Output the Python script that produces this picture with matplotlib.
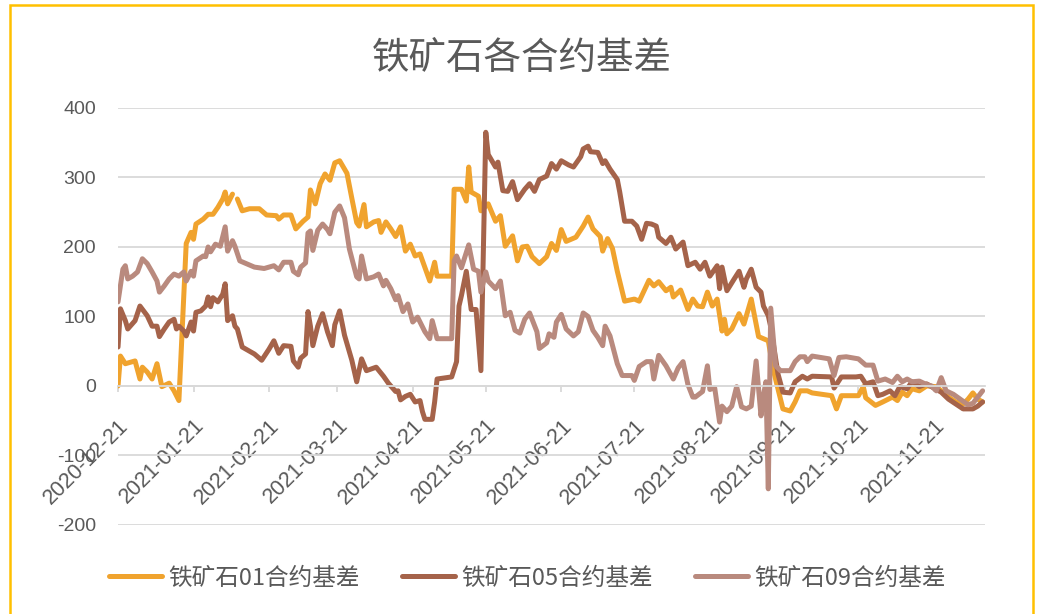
import numpy as np
import pandas as pd
import matplotlib
matplotlib.use("Agg")
import matplotlib.pyplot as plt
from matplotlib.patches import Rectangle

# Colours / text settings
TEXT_COLOR = "#595959"
GRID_COLOR = "#D9D9D9"
BORDER_COLOR = "#FFC000"
COLORS = ["#F0A32E", "#A5634A", "#B98A7E"]

TITLE = "铁矿石各合约基差"
LABELS = ["铁矿石01合约基差", "铁矿石05合约基差", "铁矿石09合约基差"]

x_tick_dates = ["2020-12-21", "2021-01-21", "2021-02-21", "2021-03-21", "2021-04-21",
                "2021-05-21", "2021-06-21", "2021-07-21", "2021-08-21", "2021-09-21",
                "2021-10-21", "2021-11-21"]
x_tick_labels = x_tick_dates
y_ticks = [-200, -100, 0, 100, 200, 300, 400]

# 01 contract basis
s01_dates = [
    "2020-12-21", "2020-12-22", "2020-12-24", "2020-12-26", "2020-12-28", "2020-12-30", "2020-12-31",
    "2021-01-02", "2021-01-04", "2021-01-06", "2021-01-08", "2021-01-11", "2021-01-13", "2021-01-15",
    "2021-01-18", "2021-01-20", "2021-01-21", "2021-01-22", "2021-01-25", "2021-01-27", "2021-01-29", "2021-01-31",
    "2021-02-02", "2021-02-03", "2021-02-04", "2021-02-06", "2021-02-07", "2021-02-08", "2021-02-10",
    "2021-02-13", "2021-02-17", "2021-02-20", "2021-02-24", "2021-02-25", "2021-02-27",
    "2021-03-02", "2021-03-04", "2021-03-07", "2021-03-09", "2021-03-10", "2021-03-12", "2021-03-14",
    "2021-03-16", "2021-03-18", "2021-03-20", "2021-03-22", "2021-03-25", "2021-03-27", "2021-03-29", "2021-03-30",
    "2021-04-01", "2021-04-02", "2021-04-05", "2021-04-07", "2021-04-08", "2021-04-10", "2021-04-12",
    "2021-04-14", "2021-04-16", "2021-04-18", "2021-04-20", "2021-04-22", "2021-04-24", "2021-04-28", "2021-04-30",
    "2021-05-01", "2021-05-07", "2021-05-08", "2021-05-11", "2021-05-13", "2021-05-14", "2021-05-15",
    "2021-05-18", "2021-05-19", "2021-05-22", "2021-05-25", "2021-05-27", "2021-05-29",
    "2021-06-01", "2021-06-03", "2021-06-05", "2021-06-07", "2021-06-09", "2021-06-12", "2021-06-15",
    "2021-06-17", "2021-06-19", "2021-06-21", "2021-06-23", "2021-06-27", "2021-06-30",
    "2021-07-02", "2021-07-04", "2021-07-07", "2021-07-08", "2021-07-10", "2021-07-12", "2021-07-14",
    "2021-07-17", "2021-07-21", "2021-07-23", "2021-07-27", "2021-07-29", "2021-07-31",
    "2021-08-03", "2021-08-05", "2021-08-06", "2021-08-09", "2021-08-12", "2021-08-14", "2021-08-16",
    "2021-08-18", "2021-08-20", "2021-08-22", "2021-08-24", "2021-08-26", "2021-08-27", "2021-08-28", "2021-08-30",
    "2021-09-02", "2021-09-04", "2021-09-07", "2021-09-09", "2021-09-10", "2021-09-14", "2021-09-16",
    "2021-09-20", "2021-09-23", "2021-09-25", "2021-09-27", "2021-09-30",
    "2021-10-02", "2021-10-10", "2021-10-12", "2021-10-14", "2021-10-21", "2021-10-23", "2021-10-24",
    "2021-10-28", "2021-10-31",
    "2021-11-04", "2021-11-06", "2021-11-08", "2021-11-10", "2021-11-12", "2021-11-15", "2021-11-18",
    "2021-11-22", "2021-11-24", "2021-11-27", "2021-11-30",
    "2021-12-03", "2021-12-05", "2021-12-07", "2021-12-09", "2021-12-11",
]
s01_vals = [
    0, 43, 32, 34, 36, 10, 27,
    20, 10, 32, -1, 4, -7, -21, 205, 221, 211, 233, 240, 247, 247, 257,
    269, 279, 262, 276, np.nan, 269, 252, 255, 255, 246, 245, 240, 246,
    246, 226, 237, 243, 282, 262, 291, 305, 296, 321, 324, 306, 270, 235, 230,
    261, 229, 236, 238, 221, 236, 226, 215, 229, 194, 204, 187, 190, 151, 178,
    158, 158, 283, 283, 266, 315, 279, 273, 252, 262, 237, 245, 201,
    216, 180, 200, 201, 186, 176, 186, 205, 195, 225, 208, 214, 230,
    243, 226, 215, 194, 212, 198, 165, 122, 125, 122, 152, 144, 150,
    137, 142, 128, 138, 110, 125, 115, 114, 135, 115, 125, 79, 96, 75, 82,
    104, 89, 125, 89, 71, 65, 24, -33, -36, -23, -7, -7,
    -10, -14, -33, -14, -14, -1, -17, -28, -23,
    -16, -21, -9, -14, -4, -7, 0, -1, -7, -16, -23,
    -26, -19, -10, -19, -23,
]

# 05 contract basis
s05_dates = [
    "2020-12-21", "2020-12-22", "2020-12-24", "2020-12-25", "2020-12-28", "2020-12-30",
    "2021-01-02", "2021-01-04", "2021-01-06", "2021-01-07", "2021-01-09", "2021-01-11", "2021-01-13",
    "2021-01-14", "2021-01-15", "2021-01-17", "2021-01-18", "2021-01-20", "2021-01-21", "2021-01-22",
    "2021-01-24", "2021-01-26", "2021-01-27", "2021-01-28", "2021-01-29", "2021-01-31",
    "2021-02-02", "2021-02-03", "2021-02-04", "2021-02-06", "2021-02-07", "2021-02-08", "2021-02-10",
    "2021-02-15", "2021-02-18", "2021-02-21", "2021-02-23", "2021-02-25", "2021-02-27",
    "2021-03-02", "2021-03-03", "2021-03-05", "2021-03-06", "2021-03-08", "2021-03-09", "2021-03-10",
    "2021-03-11", "2021-03-13", "2021-03-15", "2021-03-17", "2021-03-19", "2021-03-20", "2021-03-22",
    "2021-03-24", "2021-03-27", "2021-03-29", "2021-03-31",
    "2021-04-02", "2021-04-06", "2021-04-09", "2021-04-11", "2021-04-14", "2021-04-15", "2021-04-16",
    "2021-04-18", "2021-04-20", "2021-04-22", "2021-04-24", "2021-04-25", "2021-04-26", "2021-04-29", "2021-04-30",
    "2021-05-01", "2021-05-07", "2021-05-09", "2021-05-10", "2021-05-11", "2021-05-13", "2021-05-15",
    "2021-05-17", "2021-05-19", "2021-05-21", "2021-05-22", "2021-05-25", "2021-05-26", "2021-05-28", "2021-05-30",
    "2021-06-01", "2021-06-03", "2021-06-06", "2021-06-08", "2021-06-10", "2021-06-12", "2021-06-15",
    "2021-06-17", "2021-06-19", "2021-06-21", "2021-06-24", "2021-06-26", "2021-06-29", "2021-06-30",
    "2021-07-02", "2021-07-03", "2021-07-06", "2021-07-08", "2021-07-09", "2021-07-11", "2021-07-14",
    "2021-07-15", "2021-07-17", "2021-07-20", "2021-07-22", "2021-07-24", "2021-07-26", "2021-07-28",
    "2021-07-30", "2021-07-31",
    "2021-08-03", "2021-08-05", "2021-08-07", "2021-08-10", "2021-08-12", "2021-08-15", "2021-08-17",
    "2021-08-19", "2021-08-21", "2021-08-24", "2021-08-25", "2021-08-26", "2021-08-28", "2021-08-31",
    "2021-09-02", "2021-09-04", "2021-09-05", "2021-09-07", "2021-09-09", "2021-09-11", "2021-09-12",
    "2021-09-14", "2021-09-15", "2021-09-18", "2021-09-20", "2021-09-23", "2021-09-25", "2021-09-28", "2021-09-30",
    "2021-10-02", "2021-10-10", "2021-10-11", "2021-10-14", "2021-10-20", "2021-10-22", "2021-10-24",
    "2021-10-27", "2021-10-29", "2021-10-31",
    "2021-11-03", "2021-11-05", "2021-11-07", "2021-11-10", "2021-11-12", "2021-11-15", "2021-11-18",
    "2021-11-20", "2021-11-24", "2021-11-27", "2021-11-30",
    "2021-12-03", "2021-12-07", "2021-12-09", "2021-12-11",
]
s05_vals = [
    56, 111, 94, 82, 94, 115,
    101, 86, 86, 71, 82, 92, 96, 82, 86, 79, 72, 92, 79, 106, 108, 115, 128, 114, 127, 121,
    132, 147, 94, 101, 86, 82, 56, 46, 37, 53, 65, 47, 58,
    57, 36, 27, 40, 46, 107, 86, 58, 86, 104, 78, 58, 88, 108, 73, 37, 6, 39,
    22, 27, 14, 4, -8, -7, -20, -15, -12, -23, -21, -37, -48, -48, -23,
    10, 13, 35, 115, 130, 165, 110, 110, 22, 365, 333, 315, 322, 281, 280,
    294, 268, 283, 291, 280, 297, 302, 320, 312, 324, 318, 315, 330, 341,
    345, 337, 336, 320, 324, 312, 297, 279, 237, 237, 230, 211, 234, 233, 230, 214,
    205, 214, 197, 207, 173, 178, 168, 178, 158, 173, 140, 171, 137, 154,
    165, 142, 154, 168, 142, 135, 115, 101, 85, 17, -9, -10, 6, 14, 10,
    14, 13, -3, 13, 13, 14, 3, 6, -14, -12,
    -7, -14, -1, -4, 6, -1, 3, -1, -9, -19, -26,
    -33, -33, -29, -23,
]

# 09 contract basis
s09_dates = [
    "2020-12-21", "2020-12-23", "2020-12-24", "2020-12-25", "2020-12-27", "2020-12-29", "2020-12-31",
    "2021-01-02", "2021-01-04", "2021-01-06", "2021-01-07", "2021-01-09", "2021-01-11", "2021-01-13",
    "2021-01-15", "2021-01-17", "2021-01-18", "2021-01-20", "2021-01-21", "2021-01-22", "2021-01-25",
    "2021-01-26", "2021-01-27", "2021-01-28", "2021-01-30",
    "2021-02-01", "2021-02-03", "2021-02-04", "2021-02-06", "2021-02-07", "2021-02-09", "2021-02-15",
    "2021-02-19", "2021-02-23", "2021-02-25", "2021-02-27",
    "2021-03-02", "2021-03-03", "2021-03-05", "2021-03-06", "2021-03-08", "2021-03-09", "2021-03-10",
    "2021-03-11", "2021-03-13", "2021-03-15", "2021-03-17", "2021-03-18", "2021-03-20", "2021-03-22",
    "2021-03-24", "2021-03-26", "2021-03-29", "2021-03-30", "2021-03-31",
    "2021-04-02", "2021-04-05", "2021-04-07", "2021-04-09", "2021-04-10", "2021-04-12", "2021-04-14",
    "2021-04-15", "2021-04-17", "2021-04-19", "2021-04-21", "2021-04-23", "2021-04-26", "2021-04-28", "2021-04-29",
    "2021-05-01", "2021-05-07", "2021-05-08", "2021-05-09", "2021-05-11", "2021-05-14", "2021-05-16",
    "2021-05-18", "2021-05-19", "2021-05-21", "2021-05-22", "2021-05-25", "2021-05-27", "2021-05-29", "2021-05-31",
    "2021-06-02", "2021-06-04", "2021-06-06", "2021-06-08", "2021-06-11", "2021-06-12", "2021-06-15",
    "2021-06-16", "2021-06-18", "2021-06-19", "2021-06-21", "2021-06-23", "2021-06-26", "2021-06-28", "2021-06-30",
    "2021-07-02", "2021-07-04", "2021-07-06", "2021-07-08", "2021-07-09", "2021-07-11", "2021-07-14",
    "2021-07-16", "2021-07-20", "2021-07-21", "2021-07-23", "2021-07-26", "2021-07-28", "2021-07-29", "2021-07-31",
    "2021-08-03", "2021-08-06", "2021-08-08", "2021-08-10", "2021-08-12", "2021-08-14", "2021-08-15",
    "2021-08-18", "2021-08-20", "2021-08-21", "2021-08-23", "2021-08-25", "2021-08-26", "2021-08-28", "2021-08-30",
    "2021-09-01", "2021-09-03", "2021-09-05", "2021-09-07", "2021-09-09", "2021-09-11", "2021-09-12",
    "2021-09-13", "2021-09-14", "2021-09-15", "2021-09-17", "2021-09-19", "2021-09-23", "2021-09-25",
    "2021-09-27", "2021-09-29", "2021-09-30",
    "2021-10-02", "2021-10-09", "2021-10-11", "2021-10-13", "2021-10-16", "2021-10-21", "2021-10-24",
    "2021-10-27", "2021-10-29",
    "2021-11-01", "2021-11-04", "2021-11-06", "2021-11-08", "2021-11-10", "2021-11-12", "2021-11-15",
    "2021-11-18", "2021-11-20", "2021-11-22", "2021-11-24", "2021-11-26", "2021-11-29",
    "2021-12-03", "2021-12-05", "2021-12-07", "2021-12-09", "2021-12-11",
]
s09_vals = [
    121, 168, 173, 154, 158, 164, 183,
    176, 164, 151, 135, 144, 154, 161, 158, 164, 151, 165, 158, 180, 187, 186, 200, 193, 204,
    201, 229, 194, 209, 201, 180, 171, 169, 173, 167, 178,
    178, 165, 160, 171, 177, 220, 223, 195, 224, 233, 225, 219, 250, 259, 242, 197, 157, 154, 187,
    154, 157, 161, 144, 152, 140, 124, 130, 107, 118, 92, 99, 78, 68, 94,
    68, 68, 180, 187, 170, 203, 168, 165, 135, 164, 151, 140, 151, 101, 106,
    80, 76, 96, 105, 78, 54, 62, 75, 70, 92, 103, 82, 72, 78, 105,
    100, 80, 70, 58, 86, 72, 32, 15, 15, 8, 28, 35, 35, 10, 44,
    29, 10, 26, 35, 2, -16, -16, -8, 29, -5, -3, -52, -29, -37, -29,
    -1, -30, -33, -29, 36, -43, -14, 6, -148, 112, 29, 22, 22, 35, 42, 42, 35,
    43, 39, 15, 41, 42, 39, 30, 30, 7,
    10, 5, 14, 6, 10, 6, 7, 2, 0, -7, 12, -7, -12,
    -22, -27, -25, -16, -7,
]

series = [(s01_dates, s01_vals), (s05_dates, s05_vals), (s09_dates, s09_vals)]
for d, v in series:
    assert len(d) == len(v), (len(d), len(v))

plt.rcParams["font.family"] = ["Liberation Sans", "Noto Sans CJK SC"]
plt.rcParams["axes.unicode_minus"] = False

fig = plt.figure(figsize=(10.38, 6.14), dpi=100)
ax = fig.add_axes([0.1137, 0.1450, 0.8353, 0.6792])

lines = []
for (d, v), color, label in zip(series, COLORS, LABELS):
    ln, = ax.plot(pd.to_datetime(d), v, color=color, lw=3.6, label=label,
                  solid_joinstyle="round", solid_capstyle="round")
    lines.append(ln)

ax.set_ylim(-200, 400)
ax.set_yticks(y_ticks)
ax.set_xlim(pd.Timestamp("2020-12-21"), pd.Timestamp("2021-12-12"))
ax.set_xticks(pd.to_datetime(x_tick_dates))
ax.set_xticklabels(x_tick_labels)

# axis styling, x axis crosses at zero like in Excel
for side in ["left", "right", "top"]:
    ax.spines[side].set_visible(False)
ax.spines["bottom"].set_position(("data", 0))
ax.spines["bottom"].set_color(GRID_COLOR)
ax.spines["bottom"].set_linewidth(1.3)
ax.tick_params(axis="x", length=4, width=1.3, color=GRID_COLOR,
               labelcolor=TEXT_COLOR, labelsize=15.5, pad=17, labelrotation=45)
ax.tick_params(axis="y", length=0, labelcolor=TEXT_COLOR, labelsize=14, pad=16)
for lbl in ax.get_xticklabels():
    lbl.set_ha("right")
    lbl.set_va("top")
    lbl.set_rotation_mode("anchor")
ax.grid(axis="y", color=GRID_COLOR, lw=1.3)
ax.set_axisbelow(True)

fig.text(0.503, 0.905, TITLE, ha="center", va="center", fontsize=27,
         color=TEXT_COLOR, family=["Noto Sans CJK SC"])

fig.legend(lines, LABELS, loc="center", bbox_to_anchor=(0.508, 0.0586), ncol=3,
           frameon=False, prop={"family": ["Noto Sans CJK SC"], "size": 17},
           labelcolor=TEXT_COLOR, handlelength=2.25, handletextpad=0.25,
           columnspacing=1.8)

# golden outer frame
fig.patches.append(Rectangle((10 / 1038, -0.02), 1023 / 1038, 1 - 5 / 614 + 0.02,
                             transform=fig.transFigure, fill=False,
                             edgecolor=BORDER_COLOR, lw=1.8))

fig.savefig("out.png", dpi=100)
